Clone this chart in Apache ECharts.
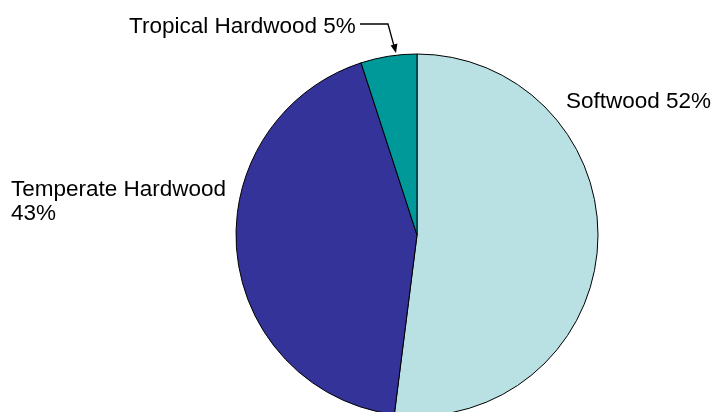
<!DOCTYPE html>
<html><head><meta charset="utf-8">
<script src="https://cdn.jsdelivr.net/npm/echarts@6/dist/echarts.min.js"></script>
<style>html,body{margin:0;padding:0;background:#fff}#c{width:711px;height:412px}</style>
</head><body><div id="c"></div>
<script>
var categories = ['Softwood', 'Temperate Hardwood', 'Tropical Hardwood'];
var values = [52, 43, 5];
var labelTexts = ['Softwood 52%', 'Temperate Hardwood\n43%', 'Tropical Hardwood 5%'];
var colors = ['#B9E0E3', '#333399', '#009999'];
var labelPos = [
  {x: 566, y: 102},
  {x: 11, y: 202},
  {x: 129, y: 27}
];
var chart = echarts.init(document.getElementById('c'));
chart.setOption({
  animation: false,
  backgroundColor: '#fff',
  series: [{
    type: 'pie',
    center: [417, 235],
    radius: 181,
    startAngle: 90,
    clockwise: true,
    data: categories.map(function (c, i) {
      return {name: c, value: values[i], itemStyle: {color: colors[i]}};
    }),
    itemStyle: {borderColor: '#000', borderWidth: 1},
    label: {
      show: true,
      position: 'outside',
      alignTo: 'none',
      overflow: 'none',
      width: 400,
      formatter: function (p) { return labelTexts[p.dataIndex]; },
      fontFamily: 'Liberation Sans, Arial, sans-serif',
      fontSize: 22.5,
      lineHeight: 24,
      color: '#000'
    },
    labelLine: {show: false},
    labelLayout: function (p) {
      var lp = labelPos[p.dataIndex];
      return {x: lp.x, y: lp.y, align: 'left', verticalAlign: 'middle', hideOverlap: false, moveOverlap: null};
    },
    emphasis: {disabled: true}
  }],
  graphic: [
    {type: 'polyline', shape: {points: [[360, 24], [388, 24], [394, 46]]}, style: {stroke: '#000', lineWidth: 1.3, fill: null}},
    {type: 'polygon', shape: {points: [[396, 53], [397.4, 43.6], [390.6, 45.4]]}, style: {fill: '#000'}}
  ]
});
</script>
</body></html>
